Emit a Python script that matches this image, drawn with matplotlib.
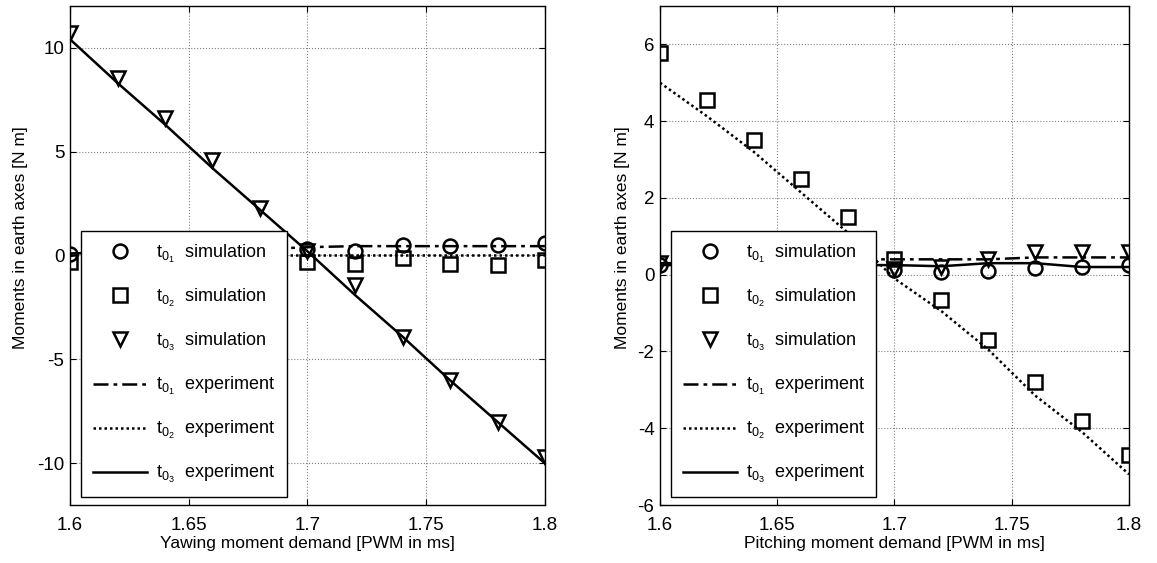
import matplotlib
matplotlib.use('Agg')
import matplotlib.pyplot as plt
import numpy as np

plt.rcParams['font.family'] = 'Liberation Sans'
plt.rcParams['font.size'] = 12.5
plt.rcParams['mathtext.fontset'] = 'custom'
plt.rcParams['mathtext.rm'] = 'Liberation Sans'
plt.rcParams['mathtext.it'] = 'Liberation Sans'

# PWM demand [ms]
pwm = [1.60, 1.62, 1.64, 1.66, 1.68, 1.70, 1.72, 1.74, 1.76, 1.78, 1.80]

# Yawing moment demand panel
yaw_t01_sim = [0.05, 0.1, 0.15, 0.2, 0.25, 0.3, 0.2, 0.5, 0.45, 0.5, 0.6]
yaw_t02_sim = [-0.3, -0.3, -0.3, -0.3, -0.3, -0.3, -0.4, -0.1, -0.4, -0.45, -0.2]
yaw_t03_sim = [10.7, 8.55, 6.6, 4.6, 2.3, 0.2, -1.4, -3.9, -6.0, -8.0, -9.7]
yaw_t01_exp = [0.1, 0.15, 0.2, 0.25, 0.3, 0.4, 0.45, 0.45, 0.45, 0.45, 0.45]
yaw_t02_exp = [0.0, 0.0, 0.0, 0.0, 0.0, 0.0, 0.0, 0.0, 0.0, 0.0, 0.0]
yaw_t03_exp = [10.4, 8.3, 6.3, 4.2, 2.2, 0.2, -1.9, -3.9, -6.0, -8.0, -10.0]

# Pitching moment demand panel
pitch_t01_sim = [0.25, 0.2, 0.2, 0.2, 0.15, 0.13, 0.08, 0.1, 0.17, 0.2, 0.25]
pitch_t02_sim = [5.77, 4.55, 3.5, 2.5, 1.5, 0.4, -0.65, -1.7, -2.8, -3.8, -4.7]
pitch_t03_sim = [0.3, 0.3, 0.3, 0.3, 0.3, 0.15, 0.2, 0.4, 0.6, 0.6, 0.6]
pitch_t01_exp = [0.3, 0.3, 0.35, 0.35, 0.4, 0.4, 0.4, 0.4, 0.45, 0.45, 0.45]
pitch_t02_exp = [5.0, 4.13, 3.2, 2.15, 1.1, -0.1, -0.95, -1.95, -3.15, -4.1, -5.2]
pitch_t03_exp = [0.25, 0.25, 0.25, 0.25, 0.25, 0.25, 0.22, 0.3, 0.3, 0.2, 0.2]

xticks = [1.6, 1.65, 1.7, 1.75, 1.8]
xtick_labels = ['1.6', '1.65', '1.7', '1.75', '1.8']

labels = [r'$\mathrm{t_{0_1}}$  simulation', r'$\mathrm{t_{0_2}}$  simulation',
          r'$\mathrm{t_{0_3}}$  simulation', r'$\mathrm{t_{0_1}}$  experiment',
          r'$\mathrm{t_{0_2}}$  experiment', r'$\mathrm{t_{0_3}}$  experiment']

fig = plt.figure(figsize=(11.57, 5.63), dpi=100)
W, H = 1157, 563
ax1 = fig.add_axes([70 / W, 1 - 505 / H, 475 / W, 499 / H])
ax2 = fig.add_axes([660 / W, 1 - 505 / H, 469 / W, 499 / H])

mk = dict(linestyle='none', color='k', markerfacecolor='none', markersize=10, markeredgewidth=1.8)


def panel(ax, s1, s2, s3, e1, e2, e3, xlabel, ylim, yticks, ylab_x):
    h1, = ax.plot(pwm, s1, marker='o', **mk)
    h2, = ax.plot(pwm, s2, marker='s', **mk)
    h3, = ax.plot(pwm, s3, marker='v', **mk)
    h4, = ax.plot(pwm, e1, color='k', lw=1.8, linestyle=(0, (6, 2, 1.5, 2)))
    h5, = ax.plot(pwm, e2, color='k', lw=1.8, linestyle=(0, (1, 1.2)))
    h6, = ax.plot(pwm, e3, color='k', lw=1.8, linestyle='-')
    ax.set_xlim(1.6, 1.8)
    ax.set_ylim(*ylim)
    ax.set_xticks(xticks)
    ax.set_xticklabels(xtick_labels)
    ax.set_yticks(yticks)
    ax.set_yticklabels([str(v) for v in yticks])
    ax.grid(True, color='#808080', linestyle=':', linewidth=0.8)
    ax.tick_params(direction='in', top=True, right=True, length=4, width=0.8,
                   labelsize=13.5)
    ax.tick_params(axis='x', pad=9)
    ax.tick_params(axis='y', pad=4)
    for s in ax.spines.values():
        s.set_linewidth(1.0)
    ax.set_xlabel(xlabel, labelpad=1)
    ax.set_ylabel('Moments in earth axes [N m]')
    ax.yaxis.set_label_coords(ylab_x, 0.535)
    leg = ax.legend([h1, h2, h3, h4, h5, h6], labels, loc='lower left',
                    bbox_to_anchor=(0.023, 0.016), borderaxespad=0, numpoints=1,
                    handlelength=3.0, labelspacing=1.22, fancybox=False,
                    framealpha=1, edgecolor='k', fontsize=13, borderpad=0.65,
                    handletextpad=0.5)
    leg.get_frame().set_linewidth(1.0)


panel(ax1, yaw_t01_sim, yaw_t02_sim, yaw_t03_sim, yaw_t01_exp, yaw_t02_exp, yaw_t03_exp,
      'Yawing moment demand [PWM in ms]', (-12, 12), [-10, -5, 0, 5, 10], -0.088)
panel(ax2, pitch_t01_sim, pitch_t02_sim, pitch_t03_sim, pitch_t01_exp, pitch_t02_exp, pitch_t03_exp,
      'Pitching moment demand [PWM in ms]', (-6, 7), [-6, -4, -2, 0, 2, 4, 6], -0.064)

fig.savefig('out.png', dpi=100, facecolor='white')
